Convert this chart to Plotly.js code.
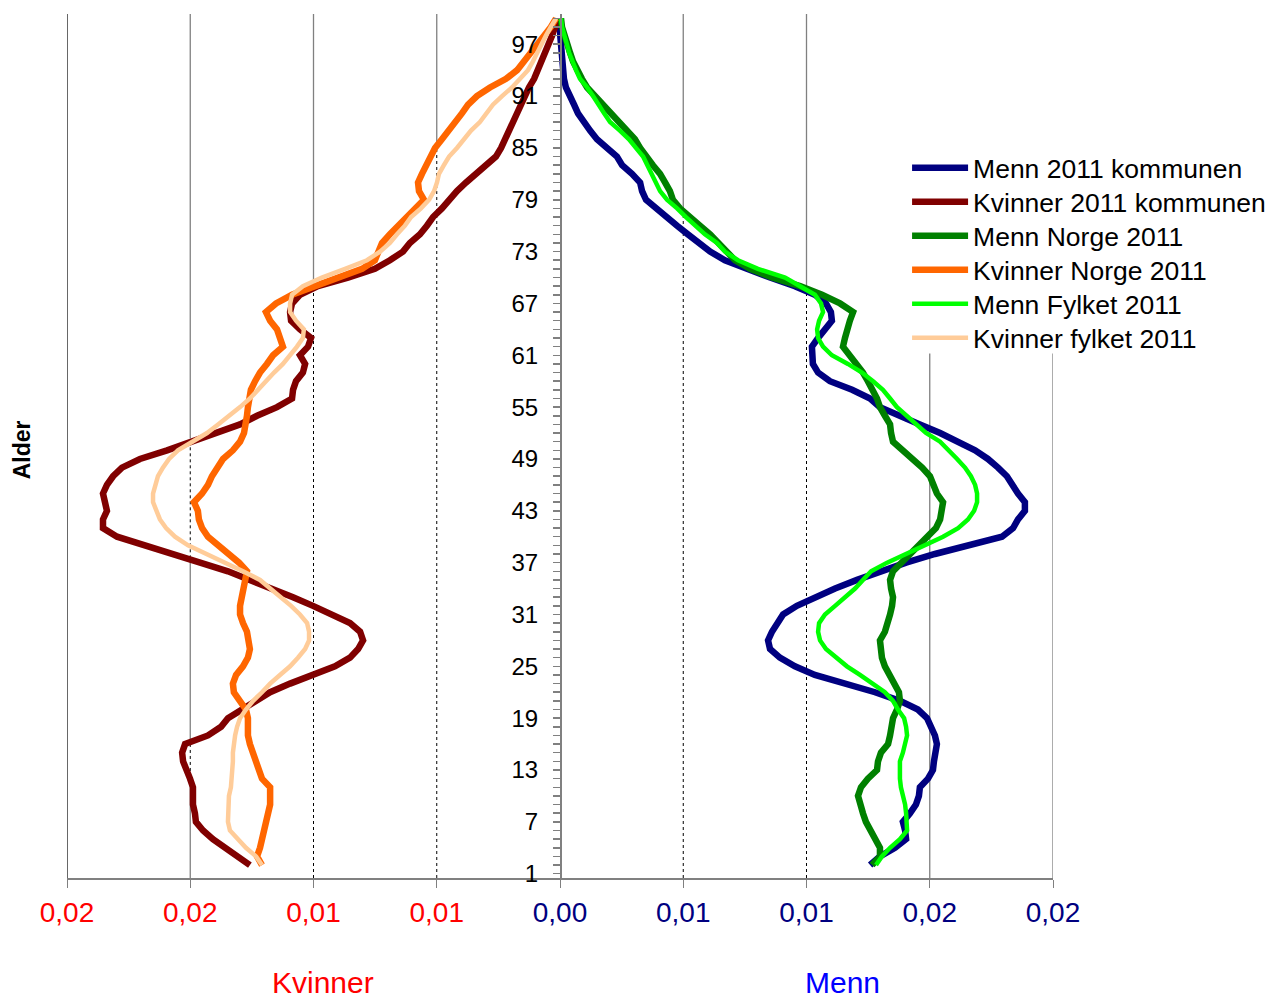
<!DOCTYPE html>
<html>
<head>
<meta charset="utf-8">
<script src="https://cdn.plot.ly/plotly-3.0.1.min.js"></script>
<style>html,body{margin:0;padding:0;background:#fff;}#chart{width:1284px;height:998px;}</style>
</head>
<body>
<div id="chart"></div>
<script>
// Age categories (y axis) for the plotted points
const alder = [2,3,4,5,6,7,8,9,10,11,12,13,14,15,16,17,18,19,20,21,22,23,24,25,26,27,28,29,30,31,32,33,34,35,36,37,38,39,40,41,42,43,44,45,46,47,48,49,50,51,52,53,54,55,56,57,58,59,60,61,62,63,64,65,66,67,68,69,70,71,72,73,74,75,76,77,78,79,80,81,82,83,84,85,86,87,88,89,90,91,92,93,94,95,96,97,98,99,100];

// Shares by age (fraction of population)
const mennKommunen = [0.01258,0.01298,0.01359,0.01404,0.01400,0.01391,0.01420,0.01444,0.01456,0.01460,0.01493,0.01513,0.01517,0.01525,0.01529,0.01521,0.01505,0.01489,0.01452,0.01379,0.01278,0.01156,0.01034,0.00953,0.00892,0.00852,0.00844,0.00860,0.00880,0.00905,0.00961,0.01034,0.01116,0.01205,0.01298,0.01404,0.01521,0.01651,0.01793,0.01838,0.01858,0.01886,0.01886,0.01858,0.01838,0.01813,0.01777,0.01736,0.01684,0.01615,0.01542,0.01460,0.01379,0.01298,0.01258,0.01185,0.01095,0.01047,0.01026,0.01022,0.01022,0.01047,0.01075,0.01103,0.01099,0.01079,0.01034,0.00953,0.00852,0.00751,0.00669,0.00609,0.00568,0.00519,0.00475,0.00434,0.00394,0.00349,0.00333,0.00325,0.00292,0.00252,0.00231,0.00191,0.00150,0.00122,0.00097,0.00073,0.00057,0.00037,0.00024,0.00016,0.00012,0.00008,0.00004,0.00002,0.00001,0.00001,0.00001];

const kvinnerKommunen = [0.01258,0.01310,0.01355,0.01408,0.01448,0.01477,0.01481,0.01489,0.01489,0.01489,0.01501,0.01517,0.01529,0.01533,0.01521,0.01428,0.01375,0.01347,0.01290,0.01237,0.01176,0.01095,0.01006,0.00913,0.00852,0.00819,0.00799,0.00811,0.00852,0.00921,0.01002,0.01083,0.01176,0.01258,0.01347,0.01460,0.01570,0.01688,0.01797,0.01854,0.01854,0.01838,0.01846,0.01854,0.01838,0.01813,0.01777,0.01704,0.01594,0.01501,0.01391,0.01298,0.01229,0.01148,0.01087,0.01083,0.01071,0.01043,0.01034,0.01055,0.01022,0.01010,0.01055,0.01091,0.01095,0.01087,0.01055,0.00982,0.00860,0.00751,0.00690,0.00637,0.00609,0.00568,0.00540,0.00515,0.00479,0.00450,0.00418,0.00381,0.00341,0.00292,0.00260,0.00239,0.00223,0.00211,0.00195,0.00179,0.00162,0.00146,0.00126,0.00105,0.00089,0.00073,0.00061,0.00045,0.00032,0.00020,0.00012];

const mennNorge = [0.01266,0.01298,0.01298,0.01278,0.01258,0.01241,0.01229,0.01217,0.01209,0.01221,0.01249,0.01286,0.01290,0.01302,0.01331,0.01339,0.01343,0.01351,0.01367,0.01379,0.01375,0.01355,0.01339,0.01318,0.01306,0.01302,0.01298,0.01318,0.01331,0.01339,0.01347,0.01351,0.01343,0.01339,0.01351,0.01387,0.01420,0.01456,0.01493,0.01525,0.01542,0.01546,0.01554,0.01529,0.01513,0.01501,0.01469,0.01428,0.01387,0.01351,0.01343,0.01339,0.01318,0.01298,0.01286,0.01270,0.01249,0.01229,0.01201,0.01168,0.01148,0.01156,0.01164,0.01176,0.01189,0.01136,0.01063,0.00974,0.00860,0.00771,0.00710,0.00677,0.00649,0.00609,0.00568,0.00527,0.00487,0.00458,0.00446,0.00426,0.00406,0.00377,0.00349,0.00325,0.00304,0.00272,0.00235,0.00203,0.00174,0.00142,0.00110,0.00089,0.00069,0.00053,0.00041,0.00028,0.00016,0.00008,0.00004];

const kvinnerNorge = [0.01209,0.01229,0.01217,0.01209,0.01201,0.01189,0.01185,0.01176,0.01176,0.01176,0.01209,0.01221,0.01233,0.01249,0.01258,0.01266,0.01266,0.01266,0.01274,0.01298,0.01323,0.01327,0.01314,0.01286,0.01266,0.01258,0.01262,0.01270,0.01286,0.01298,0.01298,0.01290,0.01286,0.01278,0.01270,0.01302,0.01347,0.01391,0.01428,0.01452,0.01465,0.01469,0.01485,0.01452,0.01428,0.01412,0.01387,0.01367,0.01327,0.01298,0.01282,0.01274,0.01270,0.01266,0.01262,0.01254,0.01237,0.01217,0.01189,0.01164,0.01124,0.01136,0.01148,0.01176,0.01193,0.01152,0.01087,0.00994,0.00905,0.00803,0.00751,0.00738,0.00722,0.00690,0.00657,0.00621,0.00588,0.00552,0.00572,0.00576,0.00560,0.00544,0.00523,0.00507,0.00479,0.00450,0.00422,0.00398,0.00373,0.00337,0.00284,0.00219,0.00174,0.00146,0.00118,0.00089,0.00061,0.00037,0.00016];

const mennFylket = [0.01282,0.01306,0.01339,0.01379,0.01408,0.01408,0.01404,0.01400,0.01391,0.01383,0.01379,0.01379,0.01379,0.01391,0.01400,0.01408,0.01404,0.01396,0.01371,0.01351,0.01318,0.01270,0.01217,0.01164,0.01120,0.01079,0.01055,0.01047,0.01051,0.01075,0.01116,0.01156,0.01197,0.01229,0.01262,0.01327,0.01400,0.01481,0.01554,0.01615,0.01655,0.01680,0.01692,0.01692,0.01684,0.01667,0.01643,0.01611,0.01578,0.01542,0.01485,0.01444,0.01404,0.01367,0.01339,0.01310,0.01270,0.01225,0.01168,0.01103,0.01067,0.01047,0.01043,0.01051,0.01067,0.01059,0.01034,0.00974,0.00913,0.00803,0.00722,0.00669,0.00637,0.00588,0.00548,0.00511,0.00475,0.00434,0.00406,0.00389,0.00373,0.00357,0.00337,0.00308,0.00280,0.00243,0.00203,0.00179,0.00154,0.00134,0.00110,0.00081,0.00065,0.00049,0.00037,0.00028,0.00016,0.00008,0.00004];

const kvinnerFylket = [0.01209,0.01233,0.01274,0.01306,0.01339,0.01347,0.01347,0.01347,0.01343,0.01335,0.01331,0.01327,0.01327,0.01327,0.01323,0.01318,0.01310,0.01298,0.01274,0.01245,0.01209,0.01176,0.01136,0.01095,0.01063,0.01034,0.01018,0.01018,0.01026,0.01055,0.01091,0.01132,0.01176,0.01217,0.01286,0.01359,0.01436,0.01509,0.01562,0.01598,0.01623,0.01639,0.01651,0.01651,0.01643,0.01631,0.01611,0.01586,0.01550,0.01493,0.01432,0.01387,0.01339,0.01298,0.01258,0.01225,0.01197,0.01160,0.01124,0.01095,0.01067,0.01043,0.01039,0.01071,0.01095,0.01095,0.01087,0.01043,0.00966,0.00872,0.00783,0.00730,0.00690,0.00661,0.00629,0.00604,0.00564,0.00531,0.00511,0.00499,0.00491,0.00471,0.00450,0.00418,0.00389,0.00361,0.00325,0.00300,0.00272,0.00235,0.00195,0.00162,0.00130,0.00110,0.00093,0.00077,0.00057,0.00037,0.00016];

// Axis tick labels
const xTickVals = [-0.02,-0.015,-0.01,-0.005,0,0.005,0.01,0.015,0.02];
const xTickText = ['0,02','0,02','0,01','0,01','0,00','0,01','0,01','0,02','0,02'];

const seriesNames = ['Menn 2011 kommunen','Kvinner 2011 kommunen','Menn Norge 2011','Kvinner Norge 2011','Menn Fylket 2011','Kvinner fylket 2011'];
const seriesColors = ['#000080','#800000','#008000','#FF6600','#00FF00','#FFCC99'];
const seriesWidths = [6.5,6.5,6.5,6.5,4.5,4.5];
const seriesData = [mennKommunen, kvinnerKommunen, mennNorge, kvinnerNorge, mennFylket, kvinnerFylket];
const seriesSide = [1,-1,1,-1,1,-1];

const FONT = '"Liberation Sans", Arial, sans-serif';
const legendIds = ['legend','legend2','legend3','legend4','legend5','legend6'];

const traces = seriesData.map((vals, k) => ({
  type: 'scatter', mode: 'lines', name: seriesNames[k],
  x: vals.map(v => v * seriesSide[k]), y: alder,
  line: {color: seriesColors[k], width: seriesWidths[k], shape: 'linear'},
  legend: legendIds[k],
  hoverinfo: 'skip'
}));

// Gridlines: dotted inside the pyramid, solid outside (derived from the data)
function gridSegments(g, side) {
  const group = side < 0 ? [kvinnerKommunen, kvinnerNorge, kvinnerFylket] : [mennKommunen, mennNorge, mennFylket];
  const out = [];
  let cur = null;
  for (let a = 1; a <= 100; a++) {
    let i = alder.indexOf(a); if (i < 0) i = 0;
    const m = Math.max(...group.map(s => s[i]));
    const inside = m >= g;
    if (cur && cur.inside === inside) { cur.y1 = a + 0.5; }
    else { if (cur) out.push(cur); cur = {inside, y0: a - 0.5, y1: a + 0.5}; }
  }
  out.push(cur);
  return out.map(s => ({
    type: 'line', layer: 'below', xref: 'x', yref: 'y',
    x0: side * g, x1: side * g, y0: s.y0, y1: s.y1,
    line: s.inside ? {color: '#000000', width: 1, dash: 'dot'} : {color: '#808080', width: 1.3}
  }));
}
let shapes = [];
[0.005, 0.01, 0.015].forEach(g => { shapes = shapes.concat(gridSegments(g, -1)); });
[0.005, 0.01].forEach(g => { shapes = shapes.concat(gridSegments(g, 1)); });
[0.015, 0.02].forEach(g => shapes.push({type:'line', layer:'below', xref:'x', yref:'paper', x0:g, x1:g, y0:0, y1:0.607, line:{color:'#808080', width:1.3}}));
shapes.push({type:'line', layer:'below', xref:'x', yref:'paper', x0:-0.02, x1:-0.02, y0:0, y1:1, line:{color:'#000000', width:1.2}});

const tickText = xTickText.map((t, i) => {
  const c = xTickVals[i] < 0 ? '#FF0000' : '#000080';
  return '<span style="color:' + c + '">' + t + '</span>';
});

const layout = {
  width: 1284, height: 998,
  margin: {l: 67, r: 231, t: 14, b: 120},
  paper_bgcolor: '#ffffff', plot_bgcolor: '#ffffff',
  font: {family: FONT, color: '#000000'},
  showlegend: true,
  xaxis: {
    range: [-0.02, 0.02], tickmode: 'array', tickvals: xTickVals, ticktext: tickText,
    showgrid: false, zeroline: false, showline: true, linecolor: '#808080', linewidth: 2,
    ticks: 'outside', ticklen: 8, tickcolor: '#808080', tickwidth: 1,
    tickfont: {family: FONT, size: 28}, fixedrange: true
  },
  yaxis: {
    range: [0.5, 100.5], tickmode: 'linear', tick0: 1, dtick: 6,
    anchor: 'free', position: 0.5, side: 'left',
    showgrid: false, zeroline: false, showline: true, linecolor: '#808080', linewidth: 1.5,
    ticks: 'outside', ticklen: 7, tickcolor: '#808080', tickwidth: 1.5,
    ticklabelstandoff: 10,
    minor: {dtick: 1, tick0: 1, ticks: 'outside', ticklen: 7, tickcolor: '#808080', tickwidth: 1.5},
    tickfont: {family: FONT, size: 24, color: '#000000'}, fixedrange: true
  },
  shapes: shapes,
  annotations: [
    {text: 'Kvinner', xref: 'paper', yref: 'paper', x: 0.2596, y: -0.1215, xanchor: 'center', yanchor: 'middle', showarrow: false, font: {family: FONT, size: 30, color: '#FF0000'}},
    {text: 'Menn', xref: 'paper', yref: 'paper', x: 0.787, y: -0.1215, xanchor: 'center', yanchor: 'middle', showarrow: false, font: {family: FONT, size: 30, color: '#0000FF'}},
    {text: '<b>Alder</b>', xref: 'paper', yref: 'paper', x: -0.0456, y: 0.495, xanchor: 'center', yanchor: 'middle', textangle: -90, showarrow: false, font: {family: FONT, size: 23, color: '#000000'}}
  ]
};

// One legend box per series, stacked at 34 px spacing (as in the reference)
legendIds.forEach((id, k) => {
  const yc = 168 + 34 * k;
  layout[id] = {
    x: 0.852, xanchor: 'left', y: (878 - yc) / 864, yanchor: 'middle',
    bgcolor: 'rgba(255,255,255,0)', borderwidth: 0,
    font: {family: FONT, size: 26.5, color: '#000000'},
    itemwidth: 56
  };
});

Plotly.newPlot('chart', traces, layout, {displayModeBar: false, staticPlot: true});
</script>
</body>
</html>
